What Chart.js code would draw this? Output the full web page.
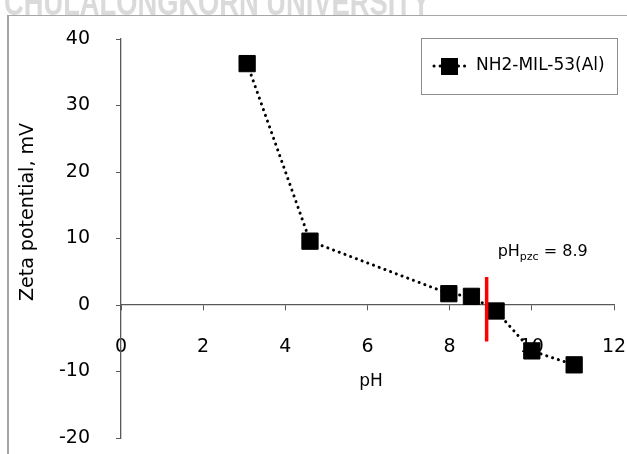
<!DOCTYPE html>
<html>
<head>
<meta charset="utf-8">
<script src="https://cdn.jsdelivr.net/npm/chart.js@4.4.1/dist/chart.umd.min.js"></script>
<style>
  body { margin: 0; background: #fff; }
  #wrap { position: relative; width: 627px; height: 454px; overflow: hidden; }
  #frame { position: absolute; left: 7px; top: 15px; width: 640px; height: 460px;
           border-left: 2px solid #a6a6a6; border-top: 1px solid #a6a6a6; }
  #mark { position: absolute; left: 4px; top: 0; height: 15px; width: 560px; overflow: hidden; }
  #mark span { position: absolute; left: 0; bottom: -5.5px; white-space: nowrap;
               font: bold 30px "Liberation Sans", sans-serif; line-height: 1;
               color: #dadada; transform: scale(0.91, 1.2); transform-origin: left bottom; }
</style>
</head>
<body>
<div id="wrap">
  <div id="mark"><span>CHULALONGKORN UNIVERSITY</span></div>
  <div id="frame"></div>
  <canvas id="myChart" width="627" height="454"></canvas>
</div>
<script>
// data
const pH = [3.07, 4.6, 7.98, 8.53, 9.13, 10.0, 11.03]
const zeta = [36.3, 9.6, 1.7, 1.3, -0.9, -6.9, -9.0]
const seriesName = 'NH2-MIL-53(Al)'
// red marker at pH_pzc
const pzcX = [8.9, 8.9]
const pzcY = [4.2, -5.5]
const pzcValue = '8.9'
const xTicks = [0, 2, 4, 6, 8, 10, 12]
const yTicks = [-20, -10, 0, 10, 20, 30, 40]

const FONT = '"DejaVu Sans", sans-serif'
const AXIS = '#595959'

const extras = {
    id: 'extras',
    afterDraw(chart) {
        let ctx = chart.ctx
        let ds = chart.data.datasets[0]

        // axis titles
        ctx.save()
        ctx.fillStyle = '#000'
        ctx.textAlign = 'center'
        ctx.textBaseline = 'middle'
        ctx.font = '17px ' + FONT
        ctx.fillText('pH', 371, 382)
        ctx.translate(28, 212)
        ctx.rotate(-Math.PI / 2)
        ctx.font = '19px ' + FONT
        ctx.fillText('Zeta potential, mV', 0, 0)
        ctx.restore()

        // pH_pzc label next to the red line
        ctx.save()
        let lx = chart.scales.x.getPixelForValue(pzcX[0]) + 11
        let ly = chart.scales.y.getPixelForValue(pzcY[0]) - 21
        ctx.fillStyle = '#000'
        ctx.textBaseline = 'alphabetic'
        ctx.font = '16px ' + FONT
        ctx.fillText('pH', lx, ly)
        lx += ctx.measureText('pH').width
        ctx.font = '11px ' + FONT
        ctx.fillText('pzc', lx, ly + 4)
        lx += ctx.measureText('pzc').width
        ctx.font = '16px ' + FONT
        ctx.fillText(' = ' + pzcValue, lx, ly)
        ctx.restore()

        // legend box
        ctx.save()
        ctx.strokeStyle = '#8c8c8c'
        ctx.lineWidth = 1
        ctx.strokeRect(421.5, 38.5, 196, 56)
        ctx.strokeStyle = ds.borderColor
        ctx.lineWidth = ds.borderWidth
        ctx.lineCap = 'round'
        ctx.setLineDash(ds.borderDash)
        ctx.beginPath()
        ctx.moveTo(434, 66)
        ctx.lineTo(468, 66)
        ctx.stroke()
        ctx.setLineDash([])
        ctx.fillStyle = '#000'
        ctx.fillRect(441, 58, 17, 17)
        ctx.font = '17px ' + FONT
        ctx.textBaseline = 'middle'
        ctx.fillText(seriesName, 476, 66)
        ctx.restore()
    }
}

const ctx = document.getElementById('myChart')

new Chart(ctx, {
    type: 'scatter',
    data: {
        datasets: [{
            label: seriesName,
            data: pH.map((v, i) => ({ x: v, y: zeta[i] })),
            showLine: true,
            borderColor: '#000',
            borderWidth: 3,
            borderDash: [0.1, 6],
            borderCapStyle: 'round',
            pointStyle: 'rect',
            pointRadius: 11.5,
            pointBackgroundColor: '#000',
            pointBorderColor: '#000',
            pointBorderWidth: 1,
            order: 1
        }, {
            label: 'pHpzc',
            data: pzcX.map((v, i) => ({ x: v, y: pzcY[i] })),
            showLine: true,
            borderColor: '#ff0000',
            borderWidth: 3.5,
            pointRadius: 0,
            order: 0
        }]
    },
    options: {
        responsive: false,
        animation: false,
        layout: { padding: { left: 0, right: 13, top: 39, bottom: 16 } },
        plugins: {
            legend: { display: false },
            tooltip: { enabled: false }
        },
        scales: {
            x: {
                type: 'linear',
                min: 0,
                max: 12,
                position: { y: 0 },
                afterBuildTicks: (s) => { s.ticks = xTicks.map(v => ({ value: v })) },
                afterFit: (s) => { s.paddingLeft = 0; s.paddingRight = 0; s.paddingTop = 0; s.paddingBottom = 0 },
                ticks: { font: { family: FONT, size: 19 }, color: '#000', padding: 26 },
                grid: { drawOnChartArea: false, drawTicks: true, tickLength: 5, tickColor: AXIS },
                border: { color: AXIS, width: 1.3 }
            },
            y: {
                type: 'linear',
                min: -20,
                max: 40,
                position: 'left',
                afterBuildTicks: (s) => { s.ticks = yTicks.map(v => ({ value: v })) },
                afterFit: (s) => { s.width = 121; s.paddingTop = 0; s.paddingBottom = 0 },
                ticks: { font: { family: FONT, size: 19 }, color: '#000', padding: 26 },
                grid: { drawOnChartArea: false, drawTicks: true, tickLength: 5, tickColor: AXIS },
                border: { color: AXIS, width: 1.3 }
            }
        }
    },
    plugins: [extras]
});
</script>
</body>
</html>
